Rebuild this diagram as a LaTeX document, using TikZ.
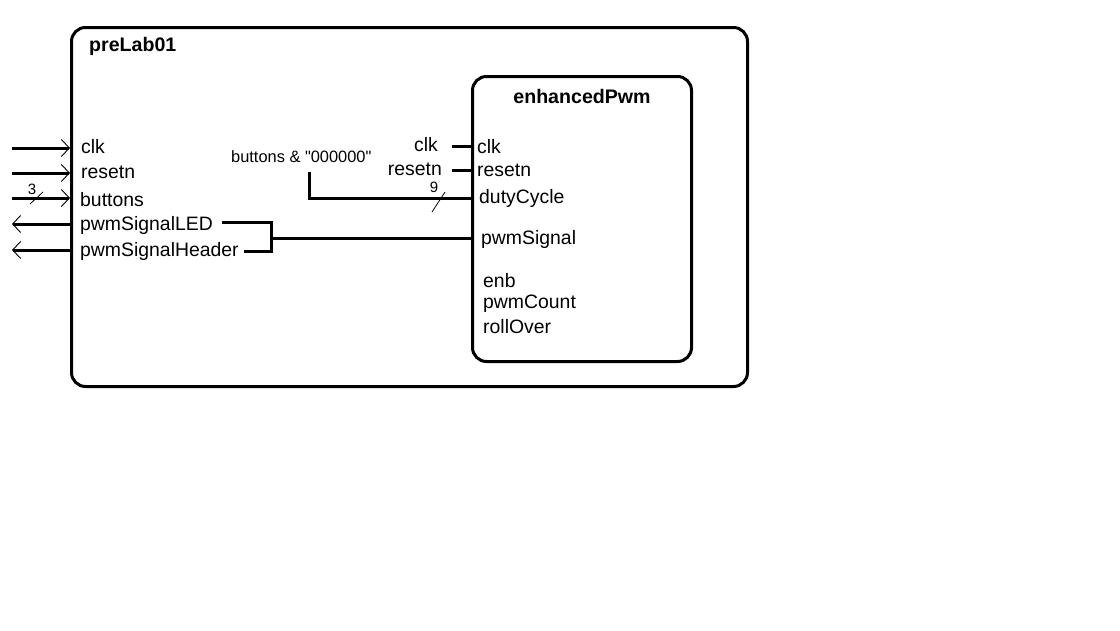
\documentclass[tikz,border=0pt]{standalone}
\usepackage{fontspec}
\setmainfont{Liberation Sans}[Ligatures=TeXOff]
\usetikzlibrary{arrows.meta}
\begin{document}
\begin{tikzpicture}[x=1pt,y=-1pt,
  block/.style={draw, line width=3pt, rounded corners=14pt, anchor=north west, inner sep=0pt},
  wire/.style={line width=3pt},
  inport/.style={wire, -{Straight Barb[length=8pt,width=17pt,line width=0.9pt]}},
  outport/.style={wire, {Straight Barb[length=8pt,width=17pt,line width=0.9pt]}-},
  lbl/.style={font=\fontsize{19.4}{21}\selectfont, inner sep=0pt},
  title/.style={font=\bfseries\fontsize{19.6}{21}\selectfont, inner sep=0pt},
  small/.style={font=\fontsize{16.4}{18}\selectfont, inner sep=0pt},
  buslbl/.style={font=\fontsize{15}{16}\selectfont, inner sep=0pt},
  slash/.style={line width=0.8pt}]
\useasboundingbox (0,0) rectangle (1120,630);

% top-level entity and the instantiated component
\node[block, minimum width=676pt, minimum height=359pt] (top) at (70,26) {};
\node[block, minimum width=219pt, minimum height=285pt] (pwm) at (471,75) {};
\node[title, anchor=west] (toptitle) at (89,46) {preLab01};
\node[title] (pwmtitle) at (582,96) {enhancedPwm};

% top-level ports
\coordinate (clkL) at (12,148);  \coordinate (clkR) at (70,148);
\coordinate (rstL) at (12,173);  \coordinate (rstR) at (70,173);
\coordinate (btnL) at (12,198);  \coordinate (btnR) at (70,198);
\coordinate (ledL) at (12,224);  \coordinate (ledR) at (70,224);
\coordinate (hdrL) at (12,250);  \coordinate (hdrR) at (70,250);
\draw[inport] (clkL) -- (clkR);
\draw[inport] (rstL) -- (rstR);
\draw[inport] (btnL) -- (btnR);
\draw[outport] (ledL) -- (ledR);
\draw[outport] (hdrL) -- (hdrR);

\node[lbl, anchor=west] (pclk) at (81,147) {clk};
\node[lbl, anchor=west] (prst) at (81,172) {resetn};
\node[lbl, anchor=west] (pbtn) at (80,200) {buttons};
\node[lbl, anchor=west] (pled) at (80,225) {pwmSignalLED};
\node[lbl, anchor=west] (phdr) at (80,251) {pwmSignalHeader};

% bus width of buttons
\coordinate (s1a) at (30,204); \coordinate (s1b) at (43,192);
\draw[slash] (s1a) -- (s1b);
\node[buslbl] (w3) at (32,189) {3};

% component ports
\node[lbl, anchor=west] (iclk) at (477,147) {clk};
\node[lbl, anchor=west] (irst) at (477,170) {resetn};
\node[lbl, anchor=west] (iduty) at (479,198) {dutyCycle};
\node[lbl, anchor=west] (isig) at (481,239) {pwmSignal};
\node[lbl, anchor=west] (ienb) at (483,281) {enb};
\node[lbl, anchor=west] (icnt) at (483,304) {pwmCount};
\node[lbl, anchor=west] (iroll) at (483,327) {rollOver};

% port map: clk and resetn
\node[lbl, anchor=east] (aclk) at (438,145) {clk};
\node[lbl, anchor=east] (arst) at (442,169) {resetn};
\coordinate (mclkA) at (452,146); \coordinate (mclkB) at (471,146);
\coordinate (mrstA) at (452,170); \coordinate (mrstB) at (471,170);
\draw[wire] (mclkA) -- (mclkB);
\draw[wire] (mrstA) -- (mrstB);

% port map: dutyCycle
\node[small, anchor=west] (cat) at (231,157) {buttons \& "000000"};
\coordinate (dA) at (309,172); \coordinate (dB) at (471,198);
\draw[wire] (dA) |- (dB);
\coordinate (s2a) at (432,212); \coordinate (s2b) at (445,192);
\draw[slash] (s2a) -- (s2b);
\node[buslbl] (w9) at (434,187) {9};

% port map: pwmSignal drives both outputs
\coordinate (ledS) at (222,222);
\coordinate (hdrS) at (244,251);
\coordinate (jn) at (271,238);
\coordinate (sigB) at (471,238);
\draw[wire] (ledS) -| (271,251) -- (hdrS);
\draw[wire] (jn) -- (sigB);
\end{tikzpicture}
\end{document}
